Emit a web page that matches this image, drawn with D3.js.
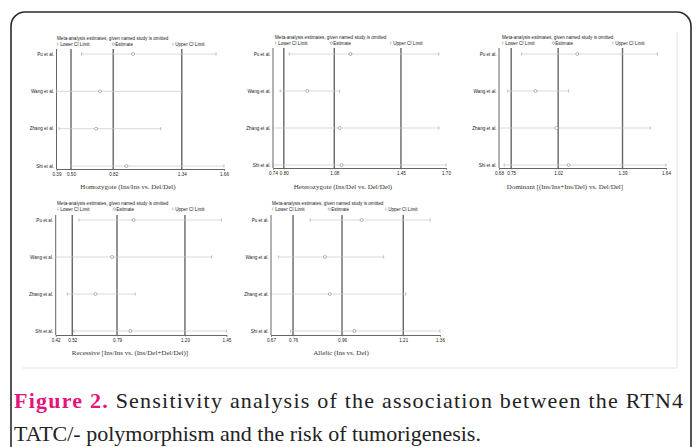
<!DOCTYPE html>
<html>
<head>
<meta charset="utf-8">
<script src="https://cdn.jsdelivr.net/npm/d3@7"></script>
<style>
  body { margin: 0; background: #fff; }
  svg { display: block; }
</style>
</head>
<body>
<svg width="697" height="447"></svg>
<script>
const svg = d3.select("svg");

const studies = ["Pu et al.", "Wang et al.", "Zhang et al.", "Shi et al."];

// [lower CI, estimate, upper CI] of the pooled estimate with each study omitted
const homoLower = [0.58, 0.39, 0.41, 0.50];
const homoEst = [0.97, 0.72, 0.69, 0.92];
const homoUpper = [1.60, 1.34, 1.18, 1.66];
const homoTicks = [0.39, 0.50, 0.82, 1.34, 1.66];

const heteroLower = [0.83, 0.78, 0.74, 0.74];
const heteroEst = [1.17, 0.93, 1.11, 1.12];
const heteroUpper = [1.66, 1.11, 1.66, 1.70];
const heteroTicks = [0.74, 0.80, 1.08, 1.45, 1.70];

const domLower = [0.81, 0.73, 0.68, 0.71];
const domEst = [1.13, 0.89, 1.01, 1.08];
const domUpper = [1.59, 1.08, 1.55, 1.64];
const domTicks = [0.68, 0.75, 1.02, 1.39, 1.64];

const recLower = [0.56, 0.42, 0.49, 0.53];
const recEst = [0.89, 0.76, 0.66, 0.87];
const recUpper = [1.42, 1.36, 0.90, 1.45];
const recTicks = [0.42, 0.52, 0.79, 1.20, 1.45];

const alleLower = [0.83, 0.70, 0.67, 0.75];
const alleEst = [1.04, 0.89, 0.91, 1.01];
const alleUpper = [1.32, 1.13, 1.22, 1.36];
const alleTicks = [0.67, 0.76, 0.96, 1.21, 1.36];

const axisTitles = [
  "Homozygote (Ins/Ins vs. Del/Del)",
  "Heterozygote (Ins/Del vs. Del/Del)",
  "Dominant [(Ins/Ins+Ins/Del) vs. Del/Del]",
  "Recessive [Ins/Ins vs. (Ins/Del+Del/Del)]",
  "Allelic (Ins vs. Del)"
];

// layout of the five small panels (pixels)
const panels = [
  { lo: homoLower, est: homoEst, up: homoUpper, ticks: homoTicks, x0: 56.5, x1: 224, y0: 54, y1: 166, top: 49, axisY: 169, legX: [57, 112, 172], titleY: 40, xlabX: 128, xlabY: 189 },
  { lo: heteroLower, est: heteroEst, up: heteroUpper, ticks: heteroTicks, x0: 273, x1: 446, y0: 54, y1: 165, top: 48, axisY: 168, legX: [275, 330, 390], titleY: 39, xlabX: 343, xlabY: 189 },
  { lo: domLower, est: domEst, up: domUpper, ticks: domTicks, x0: 499, x1: 666, y0: 54, y1: 165, top: 48, axisY: 168, legX: [502, 552, 612], titleY: 39, xlabX: 565, xlabY: 189 },
  { lo: recLower, est: recEst, up: recUpper, ticks: recTicks, x0: 55.7, x1: 226.4, y0: 220, y1: 331, top: 215, axisY: 335, legX: [57, 113, 172], titleY: 205, xlabX: 130, xlabY: 355 },
  { lo: alleLower, est: alleEst, up: alleUpper, ticks: alleTicks, x0: 271, x1: 440, y0: 220, y1: 331, top: 215, axisY: 335, legX: [272, 328, 385], titleY: 205, xlabX: 341, xlabY: 355 }
];

// outer frame
svg.append("rect")
  .attr("x", 11).attr("y", 12)
  .attr("width", 680).attr("height", 460)
  .attr("rx", 14)
  .attr("fill", "none")
  .attr("stroke", "#2a2a2a")
  .attr("stroke-width", 1.6);

// faint edge of the embedded figure image
svg.append("path")
  .attr("d", "M22,368H677V32")
  .attr("fill", "none")
  .attr("stroke", "#e4e4e4")
  .attr("stroke-width", 1);

const small = "Liberation Sans, Arial, sans-serif";
const serif = "Liberation Serif, Times New Roman, serif";

panels.forEach((p, i) => {
  const g = svg.append("g");
  const x = d3.scaleLinear().domain([p.ticks[0], p.ticks[4]]).range([p.x0, p.x1]);
  const y = d3.scalePoint().domain(studies).range([p.y0, p.y1]);

  // title and legend
  g.append("text")
    .attr("x", p.legX[0]).attr("y", p.titleY)
    .attr("font-family", small).attr("font-size", 4.6).attr("fill", "#222")
    .text("Meta-analysis estimates, given named study is omitted");
  const legY = p.titleY + 5.5;
  ["Lower CI Limit", "Estimate", "Upper CI Limit"].forEach((lab, k) => {
    const lx = p.legX[k];
    if (k === 1) {
      g.append("circle").attr("cx", lx + 1.3).attr("cy", legY - 1.4).attr("r", 1.2)
        .attr("fill", "none").attr("stroke", "#777").attr("stroke-width", 0.5);
    } else {
      g.append("line").attr("x1", lx + 0.8).attr("x2", lx + 0.8)
        .attr("y1", legY - 3).attr("y2", legY)
        .attr("stroke", "#777").attr("stroke-width", 0.5);
    }
    g.append("text")
      .attr("x", lx + 3.2).attr("y", legY)
      .attr("font-family", small).attr("font-size", 4.6).attr("fill", "#222")
      .text(lab);
  });

  // reference lines at overall lower CI, estimate, upper CI
  g.selectAll(".ref").data(p.ticks.slice(1, 4)).join("line")
    .attr("x1", d => x(d)).attr("x2", d => x(d))
    .attr("y1", p.top).attr("y2", p.axisY)
    .attr("stroke", "#666").attr("stroke-width", 1.4);

  // y axis line
  g.append("line")
    .attr("x1", p.x0).attr("x2", p.x0)
    .attr("y1", p.top).attr("y2", p.axisY)
    .attr("stroke", "#666").attr("stroke-width", 1);

  // x axis
  const xAxis = d3.axisBottom(x).tickValues(p.ticks).tickSize(1.5).tickFormat(d3.format(".2f"));
  const ax = g.append("g").attr("transform", `translate(0,${p.axisY})`).call(xAxis);
  ax.select(".domain").attr("stroke", "#666").attr("stroke-width", 1);
  ax.selectAll(".tick line").attr("stroke", "#666").attr("stroke-width", 0.6);
  ax.selectAll(".tick text").attr("font-family", small).attr("font-size", 4.6).attr("fill", "#222").attr("dy", "0.55em");

  // study labels
  g.selectAll(".lab").data(studies).join("text")
    .attr("x", p.x0 - 2.5).attr("y", d => y(d) + 1.6)
    .attr("text-anchor", "end")
    .attr("font-family", small).attr("font-size", 4.6).attr("fill", "#222")
    .text(d => d);

  const rows = studies.map((s, k) => ({ s, lo: p.lo[k], est: p.est[k], up: p.up[k] }));

  g.selectAll(".ci").data(rows).join("line")
    .attr("x1", d => x(d.lo)).attr("x2", d => x(d.up))
    .attr("y1", d => y(d.s)).attr("y2", d => y(d.s))
    .attr("stroke", "#c8c8c8").attr("stroke-width", 0.7);
  g.selectAll(".lt").data(rows).join("line")
    .attr("x1", d => x(d.lo)).attr("x2", d => x(d.lo))
    .attr("y1", d => y(d.s) - 1.6).attr("y2", d => y(d.s) + 1.6)
    .attr("stroke", "#999").attr("stroke-width", 0.6);
  g.selectAll(".ut").data(rows).join("line")
    .attr("x1", d => x(d.up)).attr("x2", d => x(d.up))
    .attr("y1", d => y(d.s) - 1.6).attr("y2", d => y(d.s) + 1.6)
    .attr("stroke", "#999").attr("stroke-width", 0.6);
  g.selectAll(".pt").data(rows).join("circle")
    .attr("cx", d => x(d.est)).attr("cy", d => y(d.s)).attr("r", 1.5)
    .attr("fill", "#fff").attr("stroke", "#888").attr("stroke-width", 0.6);

  // x axis title
  g.append("text")
    .attr("x", p.xlabX).attr("y", p.xlabY)
    .attr("text-anchor", "middle")
    .attr("font-family", serif)
    .attr("font-size", 7).attr("fill", "#333")
    .text(axisTitles[i]);
});

// caption
const cap1 = svg.append("text")
  .attr("x", 14).attr("y", 408)
  .attr("font-family", serif).attr("font-size", 22).attr("fill", "#222");
cap1.append("tspan").attr("fill", "#e4147c").attr("font-weight", "bold").text("Figure 2.");
cap1.append("tspan").text(" Sensitivity analysis of the association between the RTN4");

// justify first line to the right margin by spreading the letters
const natural = cap1.node().getComputedTextLength();
const nChars = cap1.text().length;
cap1.attr("letter-spacing", Math.max(0, (683 - 14 - natural) / (nChars - 1)));

svg.append("text")
  .attr("x", 14).attr("y", 441)
  .attr("font-family", serif).attr("font-size", 22).attr("fill", "#222")
  .text("TATC/- polymorphism and the risk of tumorigenesis.");
</script>
</body>
</html>
